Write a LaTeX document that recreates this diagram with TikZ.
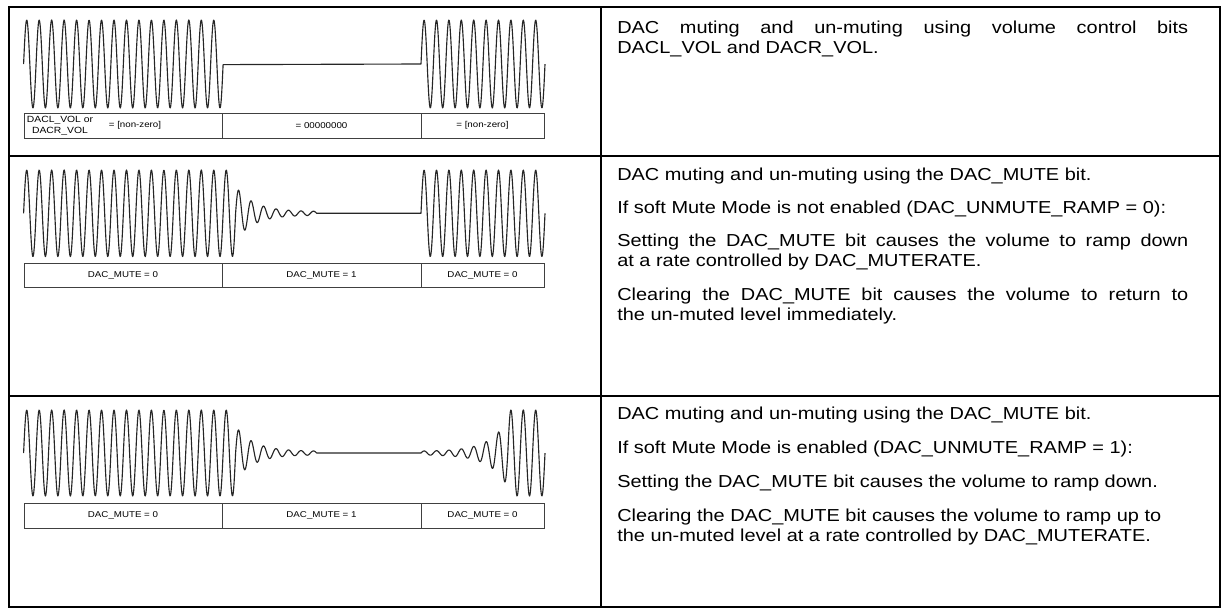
\documentclass[tikz,border=0pt]{standalone}
\usepackage{fontspec}
\setmainfont{Liberation Sans}
\newfontfamily\widesans[FakeStretch=1.15]{Liberation Sans}
\begin{document}
\begin{tikzpicture}[x=0.75pt,y=-0.75pt,
  frame/.style={line width=1.5pt, black},
  wave/.style={line width=0.85pt, black!85, line join=round},
  cellbox/.style={line width=0.75pt, black!75},
  lbl/.style={font=\widesans\fontsize{6.35}{7.5}\selectfont, inner sep=0pt},
  lblb/.style={font=\widesans\fontsize{6.75}{7.5}\selectfont, inner sep=0pt, anchor=base},
  desc/.style={font=\widesans\fontsize{13}{16}\selectfont, anchor=base west, inner sep=0pt}]
\useasboundingbox (0,0) rectangle (1221,608);

% table frame
\draw[frame] (8.5,7) rectangle (1219.5,606.5);
\draw[frame] (600.5,7) -- (600.5,606.5);
\draw[frame] (8.5,156) -- (1219.5,156);
\draw[frame] (8.5,395.5) -- (1219.5,395.5);

% ---------- row 1 waveform ----------
\draw[wave] plot[domain=23.6:223.1, samples=420] (\x,{64-44*sin(28.869*(\x-23.6))})
  -- (421,64)
  -- plot[domain=421:545, samples=260] (\x,{64-44*sin(29.032*(\x-421))});
\draw[cellbox] (24,113) rectangle (544,138) (222,113) -- (222,138) (421,113) -- (421,138);
\node[lblb] (r1a) at (60,122.5) {DACL\_VOL or};
\node[lblb] (r1b) at (60,133) {DACR\_VOL};
\node[lbl] (r1c) at (135,125.5) {= [non-zero]};
\node[lbl] (r1d) at (321.5,125.5) {= 00000000};
\node[lbl] (r1e) at (482.5,125.5) {= [non-zero]};

% ---------- row 2 waveform ----------
\draw[wave] plot[domain=23.6:235.6, samples=440] (\x,{213.3-43.3*sin(28.869*(\x-23.6))})
  -- plot[domain=235.6:316.6, samples=200] (\x,{213.3-43.3*(exp(-0.0556*(\x-226))+0.04)*sin(28.869*(\x-23.6))})
  -- (421,213.3)
  -- plot[domain=421:545, samples=260] (\x,{213.3-43.3*sin(29.032*(\x-421))});
\draw[cellbox] (24,263.3) rectangle (544,287.3) (222,263.3) -- (222,287.3) (421,263.3) -- (421,287.3);
\node[lbl] (r2a) at (123,275.3) {DAC\_MUTE = 0};
\node[lbl] (r2b) at (321.5,275.3) {DAC\_MUTE = 1};
\node[lbl] (r2c) at (482.5,275.3) {DAC\_MUTE = 0};

% ---------- row 3 waveform ----------
\draw[wave] plot[domain=23.6:235.6, samples=440] (\x,{453-43*sin(28.869*(\x-23.6))})
  -- plot[domain=235.6:316.6, samples=200] (\x,{453-43*(exp(-0.0556*(\x-226))+0.04)*sin(28.869*(\x-23.6))})
  -- (421,453)
  -- plot[domain=421:507.8, samples=220] (\x,{453-43*(exp(-0.0556*(513-\x))+0.04)*sin(29.032*(\x-421))})
  -- plot[domain=507.8:545, samples=90] (\x,{453-43*sin(29.032*(\x-421))});
\draw[cellbox] (24,503.5) rectangle (544,528) (222,503.5) -- (222,528) (421,503.5) -- (421,528);
\node[lbl] (r3a) at (123,515.8) {DAC\_MUTE = 0};
\node[lbl] (r3b) at (321.5,515.8) {DAC\_MUTE = 1};
\node[lbl] (r3c) at (482.5,515.8) {DAC\_MUTE = 0};

% ---------- right column text ----------
\node[desc] (t11) at (617,33.5) {\hbox to 428.25pt{DAC muting and un-muting using volume control bits}};
\node[desc] (t12) at (617,53.5) {DACL\_VOL and DACR\_VOL.};

\node[desc] (t21) at (617,180) {DAC muting and un-muting using the DAC\_MUTE bit.};
\node[desc] (t22) at (617,213) {If soft Mute Mode is not enabled (DAC\_UNMUTE\_RAMP = 0):};
\node[desc] (t23) at (617,246) {\hbox to 428.25pt{Setting the DAC\_MUTE bit causes the volume to ramp down}};
\node[desc] (t24) at (617,266) {at a rate controlled by DAC\_MUTERATE.};
\node[desc] (t25) at (617,300) {\hbox to 428.25pt{Clearing the DAC\_MUTE bit causes the volume to return to}};
\node[desc] (t26) at (617,320) {the un-muted level immediately.};

\node[desc] (t31) at (617,419) {DAC muting and un-muting using the DAC\_MUTE bit.};
\node[desc] (t32) at (617,453) {If soft Mute Mode is enabled (DAC\_UNMUTE\_RAMP = 1):};
\node[desc] (t33) at (617,487) {Setting the DAC\_MUTE bit causes the volume to ramp down.};
\node[desc] (t34) at (617,521) {Clearing the DAC\_MUTE bit causes the volume to ramp up to};
\node[desc] (t35) at (617,541) {the un-muted level at a rate controlled by DAC\_MUTERATE.};
\end{tikzpicture}
\end{document}
